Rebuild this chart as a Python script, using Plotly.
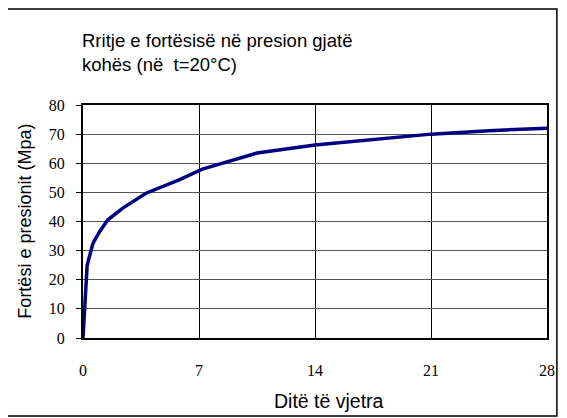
import plotly.graph_objects as go

days = [0, 0.25, 0.6, 1, 1.5, 2.4, 3.8, 5.8, 7.2, 10.5, 14, 17.5, 21, 24.5, 28]
strength = [0, 25, 32.5, 36.5, 40.6, 44.6, 49.7, 54.3, 58, 63.5, 66.3, 68.3, 70, 71.2, 72]
x_ticks = [0, 7, 14, 21, 28]
y_ticks = [0, 10, 20, 30, 40, 50, 60, 70, 80]

title_text = "Rritje e fortësisë në presion gjatë<br>kohës (në  t=20°C)"
x_title = "Ditë të vjetra"
y_title = "Fortësi e presionit (Mpa)"

OFF = 8  # page body margin
W, H = 567 - OFF, 418 - OFF
L, R, T, B = 83 - OFF, 15, 105 - OFF, 80
pw, ph = W - L - R, H - T - B

def px(xp):
    return (xp - OFF - L) / pw

def py(yp):
    return (H - B - (yp - OFF)) / ph

serif = "Liberation Serif, Times New Roman, serif"
sans = "Liberation Sans, Arial, sans-serif"

fig = go.Figure()
fig.add_trace(go.Scatter(x=days, y=strength, mode="lines",
                         line=dict(color="#000080", width=3.5), showlegend=False))

fig.update_layout(
    width=W, height=H,
    margin=dict(l=L, r=R, t=T, b=B),
    paper_bgcolor="white", plot_bgcolor="white",
    xaxis=dict(range=[0, 28], tickvals=x_ticks, showgrid=True, gridcolor="#000000", gridwidth=1,
               zeroline=False, showline=True, linecolor="black", linewidth=2, mirror=True,
               ticks="", ticklabelstandoff=17,
               tickfont=dict(family=serif, size=16, color="black")),
    yaxis=dict(range=[0, 80], tickvals=y_ticks, showgrid=True, gridcolor="#555555", gridwidth=1,
               zeroline=False, showline=True, linecolor="black", linewidth=2, mirror=True,
               ticks="outside", ticklen=5, tickcolor="black", ticklabelstandoff=8,
               tickfont=dict(family=serif, size=16, color="black")),
    shapes=[dict(type="rect", xref="paper", yref="paper",
                 x0=px(6), x1=px(562), y0=py(416), y1=py(9),
                 line=dict(color="black", width=1.5), layer="below")],
    annotations=[
        dict(text=title_text, xref="paper", yref="paper", x=px(80), y=py(28),
             xanchor="left", yanchor="top", align="left", showarrow=False,
             font=dict(family=sans, size=18.5, color="black")),
        dict(text=x_title, xref="paper", yref="paper", x=px(332), y=py(401),
             xanchor="center", yanchor="middle", showarrow=False,
             font=dict(family=sans, size=19.5, color="black")),
        dict(text=y_title, xref="paper", yref="paper", x=px(24), y=py(221),
             xanchor="center", yanchor="middle", showarrow=False, textangle=-90,
             font=dict(family=sans, size=18, color="black")),
    ],
)

fig.write_html("out.html")
